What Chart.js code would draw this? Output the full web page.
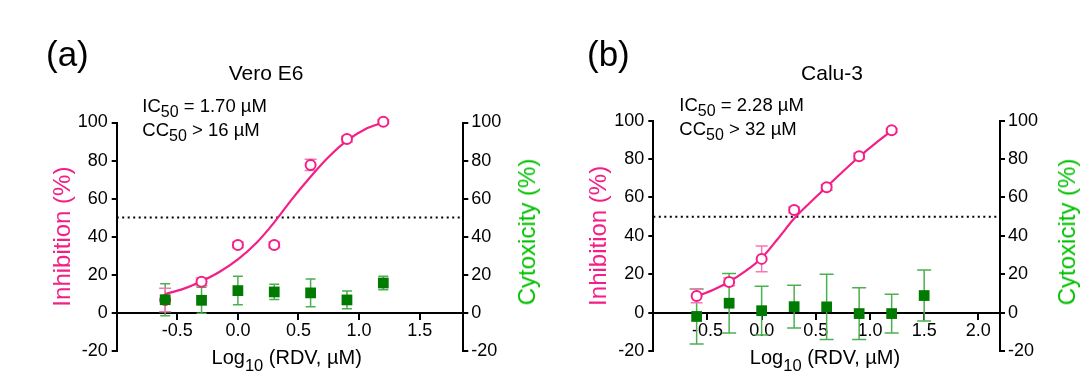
<!DOCTYPE html>
<html><head><meta charset="utf-8">
<script src="https://cdn.jsdelivr.net/npm/chart.js@4/dist/chart.umd.min.js"></script>
<style>
html,body{margin:0;padding:0;background:#fff;}
#wrap{position:relative;width:1082px;height:374px;font-family:"Liberation Sans",Arial,sans-serif;color:#000;overflow:hidden;}
canvas{position:absolute;top:0;}
.t{position:absolute;white-space:nowrap;line-height:1;}
.c{transform:translateX(-50%);}
.rot{transform:translate(-50%,-50%) rotate(-90deg);}
.s{position:relative;top:5px;font-size:16px;}
</style></head>
<body>
<div id="wrap">
  <canvas id="ca" width="541" height="374" style="left:0"></canvas>
  <canvas id="cb" width="541" height="374" style="left:541px"></canvas>

  <div class="t" style="left:46px;top:36.4px;font-size:35px;">(a)</div>
  <div class="t c" style="left:266px;top:61.5px;font-size:21px;">Vero E6</div>
  <div class="t" style="left:142.3px;top:96.6px;font-size:18.5px;">IC<span class="s">50</span> = 1.70 µM</div>
  <div class="t" style="left:142.3px;top:121px;font-size:18.5px;">CC<span class="s">50</span> &gt; 16 µM</div>
  <div class="t c" style="left:286.7px;top:347px;font-size:20px;">Log<span class="s" style="font-size:16.5px;top:6.5px">10</span> (RDV, µM)</div>
  <div class="t rot" style="left:527px;top:231.5px;font-size:24px;color:#00C000;">Cytoxicity (%)</div>

  <div class="t" style="left:587px;top:36.4px;font-size:35px;">(b)</div>
  <div class="t c" style="left:832px;top:61.5px;font-size:21px;">Calu-3</div>
  <div class="t" style="left:679.3px;top:96px;font-size:18.5px;">IC<span class="s">50</span> = 2.28 µM</div>
  <div class="t" style="left:679.3px;top:120.4px;font-size:18.5px;">CC<span class="s">50</span> &gt; 32 µM</div>
  <div class="t c" style="left:825px;top:347px;font-size:20px;">Log<span class="s" style="font-size:16.5px;top:6.5px">10</span> (RDV, µM)</div>
  <div class="t rot" style="left:1067px;top:231.5px;font-size:24px;color:#00C000;">Cytoxicity (%)</div>
</div>
<script>
// ---------- data ----------
const yTicksRange = [-20, 100];
const doseLogA = [-0.6, -0.3, 0.0, 0.3, 0.6, 0.9, 1.2];
const inhibA    = [6.7, 16.2, 35.6, 35.6, 77.7, 91.3, 100.4];
const inhibErrA = [6.2, 2.0, 1.5, 1.5, 3.0, 1.5, 1.0];
const cytoA     = [6.8, 6.5, 11.6, 10.9, 10.4, 6.7, 15.6];
const cytoErrA  = [8.4, 6.8, 7.5, 4.0, 7.3, 4.7, 3.6];
const fitXA = [-0.6, -0.45, -0.3, -0.15, 0.0, 0.15, 0.3, 0.45, 0.6, 0.75, 0.9, 1.05, 1.2];
const fitYA = [9.8, 12.5, 16.5, 21.5, 28.0, 36.5, 47.5, 60.0, 71.5, 82.0, 90.5, 96.5, 100.0];

const doseLogB  = [-0.6, -0.3, 0.0, 0.3, 0.6, 0.9, 1.2];
const inhibB    = [8.7, 16.0, 28.0, 53.5, 65.3, 81.5, 95.0];
const inhibErrB = [3.5, 2.0, 6.7, 1.5, 1.5, 1.5, 1.0];
const cytoDoseB = [-0.6, -0.3, 0.0, 0.3, 0.6, 0.9, 1.2, 1.5];
const cytoB     = [-2.0, 4.9, 1.0, 3.1, 3.0, -0.5, -0.5, 8.9];
const cytoErrB  = [14.3, 15.5, 12.7, 11.1, 17.0, 13.5, 10.1, 13.3];
const fitXB = [-0.6, -0.45, -0.3, -0.15, 0.0, 0.15, 0.3, 0.45, 0.6, 0.75, 0.9, 1.05, 1.2];
const fitYB = [8.5, 11.8, 16.1, 21.6, 28.5, 38.5, 49.0, 57.5, 65.5, 73.5, 81.2, 88.2, 94.8];

const halfLine = 50;

// ---------- styling ----------
const FONT = '"Liberation Sans", Arial, sans-serif';
const PINK = '#F41E87';
const PINK_ERR = '#F27AB2';
const GREEN = '#007A00';
const GREEN_ERR = '#4CAF50';

const zip = (xs, ys) => xs.map((x, i) => ({x: x, y: ys[i]}));

const errorBarPlugin = {
  id: 'errorBars',
  beforeDatasetsDraw(chart) {
    const ctx = chart.ctx;
    chart.data.datasets.forEach((ds, i) => {
      if (!ds.errorBars) return;
      const meta = chart.getDatasetMeta(i);
      const xs = chart.scales[meta.xAxisID], ys = chart.scales[meta.yAxisID];
      ctx.save();
      ctx.beginPath();
      ctx.strokeStyle = ds.errorColor;
      ctx.lineWidth = ds.errorWidth;
      ds.data.forEach((p, j) => {
        const e = ds.errorBars[j];
        const x = xs.getPixelForValue(p.x);
        const y1 = ys.getPixelForValue(p.y + e);
        const y2 = ys.getPixelForValue(p.y - e);
        const c = ds.capHalf;
        ctx.moveTo(x, y1); ctx.lineTo(x, y2);
        ctx.moveTo(x - c, y1); ctx.lineTo(x + c, y1);
        ctx.moveTo(x - c, y2); ctx.lineTo(x + c, y2);
      });
      ctx.stroke();
      ctx.restore();
    });
  }
};

function build(canvasId, cfg) {
  const tickFont = {family: FONT, size: 18};
  return new Chart(document.getElementById(canvasId), {
    type: 'scatter',
    data: {
      datasets: [
        { // green squares (top)
          data: zip(cfg.cytoX, cfg.cyto), yAxisID: 'y2', clip: false,
          pointStyle: 'rect', pointRadius: 7.6, pointBorderWidth: 0,
          backgroundColor: GREEN, borderColor: GREEN,
          errorBars: cfg.cytoErr, errorColor: GREEN_ERR, errorWidth: 1.5, capHalf: cfg.greenCap,
          order: 0
        },
        { // pink open circles
          data: zip(cfg.inhX, cfg.inh), yAxisID: 'y', clip: false,
          pointStyle: 'circle', pointRadius: 5, pointBorderWidth: 2,
          backgroundColor: '#ffffff', borderColor: PINK,
          errorBars: cfg.inhErr, errorColor: PINK_ERR, errorWidth: 1.5, capHalf: 6,
          order: 1
        },
        { // fitted curve
          data: zip(cfg.fitX, cfg.fitY), yAxisID: 'y', clip: false,
          showLine: true, pointRadius: 0, borderColor: PINK, borderWidth: 2.2,
          cubicInterpolationMode: 'monotone', fill: false,
          order: 2
        },
        { // 50% dotted line
          data: [{x: cfg.xMin, y: halfLine}, {x: cfg.xMax, y: halfLine}], yAxisID: 'y',
          showLine: true, pointRadius: 0, borderColor: '#000', borderWidth: 2,
          borderDash: [2, 3.5], fill: false,
          order: 3
        }
      ]
    },
    options: {
      responsive: false, animation: false, devicePixelRatio: 1, events: [],
      layout: {padding: {top: cfg.top, bottom: cfg.bottom, left: 0, right: 0}},
      plugins: {legend: {display: false}, tooltip: {enabled: false}, title: {display: false}},
      scales: {
        x: {
          type: 'linear', min: cfg.xMin, max: cfg.xMax, position: {y: 0},
          ticks: {stepSize: 0.5, includeBounds: false, autoSkip: false, maxRotation: 0,
                  font: tickFont, color: '#000', padding: 2,
                  callback: v => (Math.abs(v - cfg.xMin) < 1e-9 ? null : v.toFixed(1))},
          grid: {drawOnChartArea: false, drawTicks: true, tickLength: 6, color: '#000', lineWidth: 2},
          border: {display: true, color: '#000', width: 2},
          afterFit: s => { s.height = 0; }
        },
        y: {
          position: 'left', min: yTicksRange[0], max: yTicksRange[1],
          ticks: {stepSize: 20, font: tickFont, color: '#000', padding: 4},
          grid: {drawOnChartArea: false, drawTicks: true, tickLength: 5, color: '#000', lineWidth: 2},
          border: {display: true, color: '#000', width: 2},
          title: {display: true, text: 'Inhibition (%)', color: PINK,
                  font: {family: FONT, size: 24}, padding: {top: cfg.titlePad, bottom: 0}},
          afterFit: s => { s.width = cfg.leftW; }
        },
        y2: {
          position: 'right', min: yTicksRange[0], max: yTicksRange[1],
          ticks: {stepSize: 20, font: tickFont, color: '#000', padding: 3},
          grid: {drawOnChartArea: false, drawTicks: true, tickLength: 5, color: '#000', lineWidth: 2},
          border: {display: true, color: '#000', width: 2},
          afterFit: s => { s.width = cfg.rightW; }
        }
      }
    },
    plugins: [errorBarPlugin]
  });
}

build('ca', {
  cytoX: doseLogA, cyto: cytoA, cytoErr: cytoErrA,
  inhX: doseLogA, inh: inhibA, inhErr: inhibErrA,
  fitX: fitXA, fitY: fitYA,
  xMin: -1.0, xMax: 1.86, top: 122.5, bottom: 23.3,
  leftW: 116.7, rightW: 541 - 463.3, titlePad: 48.6, greenCap: 5
});
build('cb', {
  cytoX: cytoDoseB, cyto: cytoB, cytoErr: cytoErrB,
  inhX: doseLogB, inh: inhibB, inhErr: inhibErrB,
  fitX: fitXB, fitY: fitYB,
  xMin: -1.0, xMax: 2.2, top: 120.7, bottom: 23,
  leftW: 112.3, rightW: 541 - 459, titlePad: 44, greenCap: 7
});
</script>
</body></html>
